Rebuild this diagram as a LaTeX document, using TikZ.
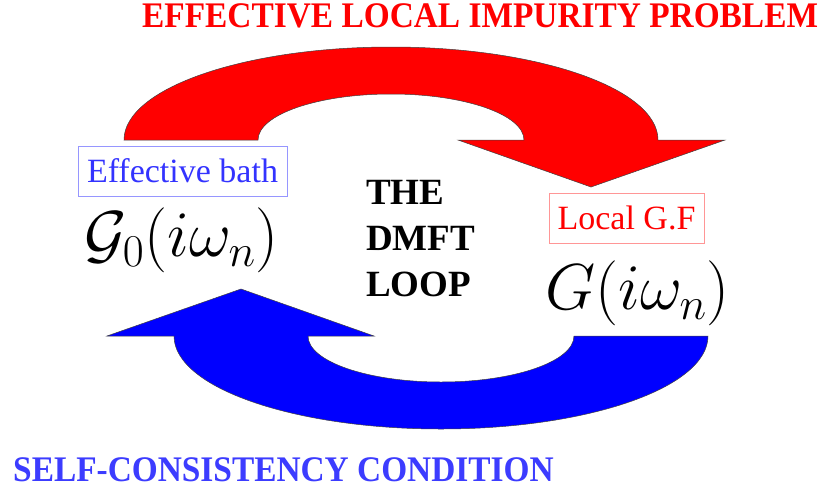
\RequirePackage{fix-cm}
\documentclass[tikz,border=0pt]{standalone}
\usepackage{fontspec}
\setmainfont{Liberation Serif}
\usepackage{graphicx}
\definecolor{labelblue}{RGB}{51,51,255}
\definecolor{titleblue}{RGB}{60,60,255}
\definecolor{boxblue}{RGB}{150,150,255}
\definecolor{boxred}{RGB}{255,150,150}
\tikzset{
  bandarrow/.style={draw=black!75, line width=0.5pt, line join=miter},
  headline/.style={anchor=base west, inner sep=0pt, font=\bfseries\fontsize{36}{40}\selectfont},
  labelbox/.style={draw, line width=0.6pt, inner sep=0pt, minimum height=50pt, font=\fontsize{34}{38}\selectfont},
  mathlabel/.style={inner sep=0pt, font=\fontsize{65}{72}\selectfont},
}
\begin{document}
\begin{tikzpicture}[x=1pt,y=-1pt]
\useasboundingbox[fill=white] (0,0) rectangle (823,488);

% red arrow (impurity problem)
\fill[bandarrow, fill=red]
  (124,140) .. controls (124,88.6) and (243.5,47) .. (391,47)
  .. controls (538.5,47) and (658,88.6) .. (658,140)
  -- (725,140) -- (591,187) -- (458,140) -- (524,140)
  .. controls (524,114.6) and (464.5,94) .. (391,94)
  .. controls (317.5,94) and (258,114.6) .. (258,140) -- cycle;

% blue arrow (self-consistency), same shape turned half a turn
\begin{scope}[rotate around={180:(416,238)}]
\fill[bandarrow, fill=blue]
  (124,140) .. controls (124,88.6) and (243.5,47) .. (391,47)
  .. controls (538.5,47) and (658,88.6) .. (658,140)
  -- (725,140) -- (591,187) -- (458,140) -- (524,140)
  .. controls (524,114.6) and (464.5,94) .. (391,94)
  .. controls (317.5,94) and (258,114.6) .. (258,140) -- cycle;
\end{scope}

\node[headline, text=red] (top) at (142,27)
  {\scalebox{0.927}[1]{EFFECTIVE LOCAL IMPURITY PROBLEM}};
\node[headline, text=titleblue] (bottom) at (13,481)
  {\scalebox{0.927}[1]{SELF-CONSISTENCY CONDITION}};

\node[labelbox, draw=boxblue, text=labelblue, minimum width=209pt] (bath) at (182.5,171) {Effective bath};
\node[labelbox, draw=boxred, text=red, minimum width=155pt] (local) at (626.5,218) {Local G.F};

\node[mathlabel] (g0) at (181.5,240) {$\mathcal{G}_0(i\omega_n)$};
\node[mathlabel] (g) at (637.5,293.5) {$G(i\omega_n)$};

\node[anchor=north west, inner sep=0pt, align=left,
      font=\bfseries\fontsize{37}{46}\selectfont] (loop) at (366,180)
  {THE\\DMFT\\LOOP};
\end{tikzpicture}
\end{document}
